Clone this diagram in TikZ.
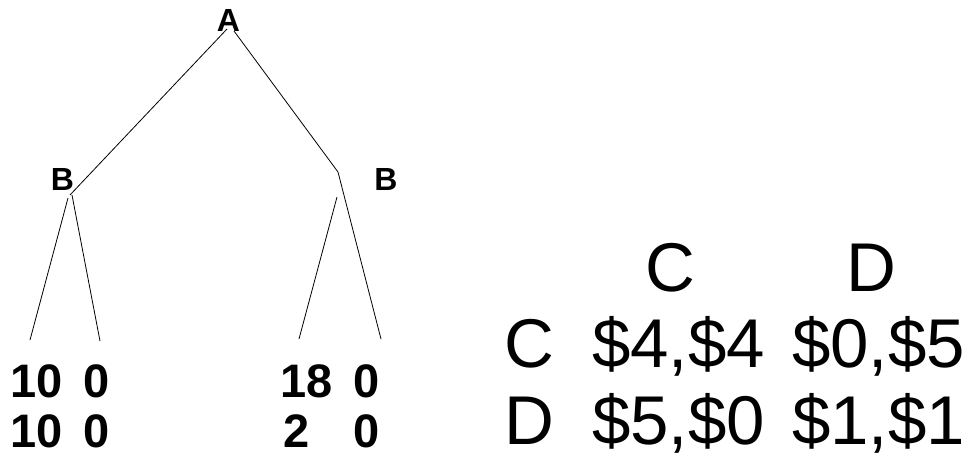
\documentclass[tikz,border=0pt]{standalone}
\usepackage{fontspec}
\setmainfont{Liberation Sans}
\begin{document}
\begin{tikzpicture}[x=1pt,y=-1pt,
  lbl/.style={inner sep=0pt, anchor=base, font=\fontsize{32}{32}\selectfont\bfseries},
  leaf/.style={inner sep=0pt, anchor=base west, font=\fontsize{47}{47}\selectfont\bfseries},
  hdr/.style={inner sep=0pt, anchor=base, font=\fontsize{69}{69}\selectfont},
  mat/.style={inner sep=0pt, anchor=base west, font=\fontsize{69}{69}\selectfont},
  edge/.style={line width=0.8pt}]
\useasboundingbox (0,0) rectangle (968,452);
% tree labels
\node[lbl] (A) at (228.5,32) {A};
\node[lbl] (B1) at (62.5,190) {B};
\node[lbl] (B2) at (386,190) {B};
% junction coordinates
\coordinate (aL) at (227,29);
\coordinate (aR) at (234,31);
\coordinate (bL) at (70,195);
\coordinate (bLa) at (68,198);
\coordinate (bLb) at (72,195);
\coordinate (bR) at (338,172);
\coordinate (bRa) at (337,197);
\coordinate (l1) at (30,340);
\coordinate (l2) at (100,341);
\coordinate (l3) at (299,339);
\coordinate (l4) at (381,339);
% edges
\draw[edge] (aL) -- (bL);
\draw[edge] (bLa) -- (l1);
\draw[edge] (bLb) -- (l2);
\draw[edge] (aR) -- (bR) -- (l4);
\draw[edge] (bRa) -- (l3);
% leaves
\node[leaf] (p1a) at (10,397) {10};
\node[leaf] (p1b) at (83,397) {0};
\node[leaf] (p2a) at (10,447) {10};
\node[leaf] (p2b) at (83,447) {0};
\node[leaf] (p3a) at (280,397) {18};
\node[leaf] (p3b) at (353,397) {0};
\node[leaf] (p4a) at (283,447) {2};
\node[leaf] (p4b) at (353,447) {0};
% payoff matrix
\node[hdr] (hC) at (670,291) {C};
\node[hdr] (hD) at (871.5,291) {D};
\node[mat] (rC) at (504,367) {C};
\node[mat] (rD) at (504,444) {D};
\node[mat] (cc) at (592,367) {\$4,\$4};
\node[mat] (cd) at (792,367) {\$0,\$5};
\node[mat] (dc) at (592,444) {\$5,\$0};
\node[mat] (dd) at (792,444) {\$1,\$1};
\end{tikzpicture}
\end{document}
